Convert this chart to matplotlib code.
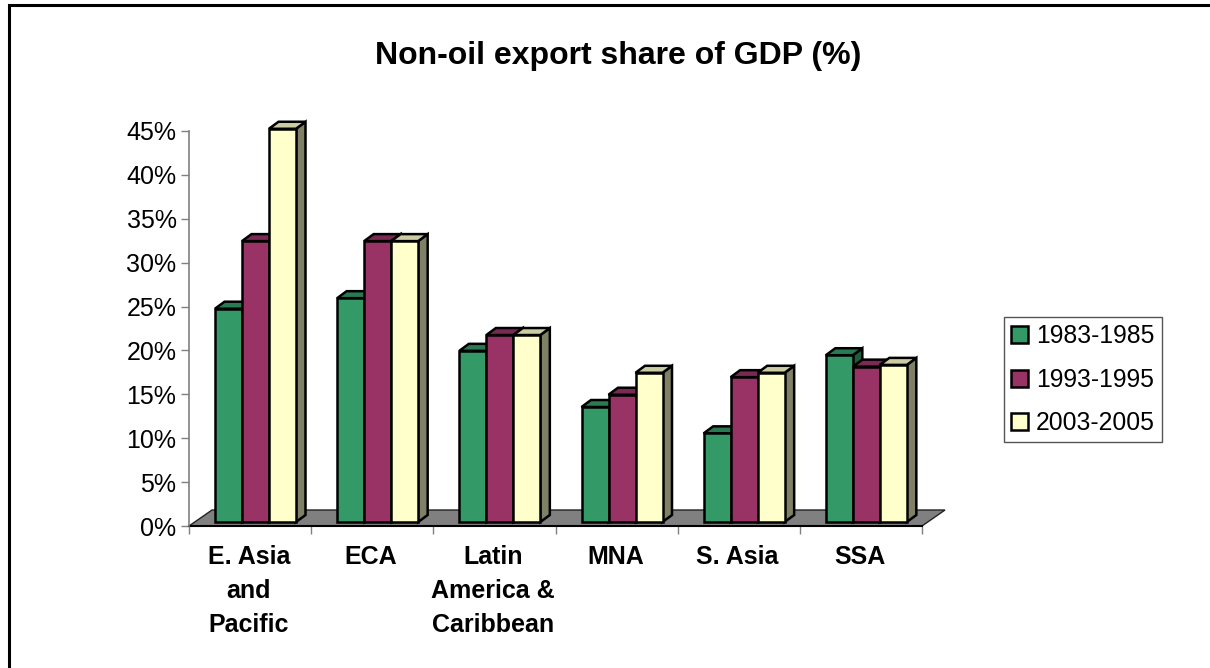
import matplotlib
matplotlib.use('Agg')
import matplotlib.pyplot as plt
import matplotlib.patches as mpatches
from matplotlib.lines import Line2D

plt.rcParams['font.family'] = ['Liberation Sans', 'DejaVu Sans']

categories = ["E. Asia\nand\nPacific", "ECA", "Latin\nAmerica &\nCaribbean", "MNA", "S. Asia", "SSA"]
periods = ["1983-1985", "1993-1995", "2003-2005"]
vals_83 = [24.3, 25.5, 19.5, 13.1, 10.1, 19.0]
vals_93 = [32.0, 32.0, 21.3, 14.5, 16.5, 17.7]
vals_03 = [44.8, 32.0, 21.3, 17.0, 17.0, 17.9]
yticks = [0, 5, 10, 15, 20, 25, 30, 35, 40, 45]

W, H = 1210, 668
front_colors = ["#339966", "#993366", "#FFFFCC"]
top_colors = ["#297A52", "#7A2952", "#CCCCA3"]
side_colors = ["#1F5C3D", "#5C1F3D", "#808066"]

fig = plt.figure(figsize=(W / 100, H / 100), dpi=100)
# slide frame: only left and top edges are visible in the reference
fig.add_artist(Line2D([9 / W, 9 / W, 1209 / W], [0, 1 - 5 / H, 1 - 5 / H], transform=fig.transFigure,
                      color="black", linewidth=2.2, solid_joinstyle="miter"))

# axes box in pixels: x 189-922, y 526-131
ax = fig.add_axes([189 / W, 1 - 526 / H, 733 / W, 395 / H])
ax.set_xlim(0, 6)
ax.set_ylim(0, 45)
ax.patch.set_visible(False)

px_x = 6 / 733
px_y = 45 / 395
depth_x = 9.5 * px_x
depth_y = 7 * px_y
front_y = 4 * px_y
floor_x = 23 * px_x
floor_y = 16 * px_y

# floor
ax.add_patch(mpatches.Polygon([(0, 0), (floor_x, floor_y), (6 + floor_x, floor_y), (6, 0)], closed=True,
                              facecolor="#808080", edgecolor="#222222", linewidth=1.0, clip_on=False, zorder=1))

bar_w = 27 * px_x
start = 26 * px_x
series = [vals_83, vals_93, vals_03]
for s, vals in enumerate(series):
    lefts = [i + start + s * bar_w for i in range(len(vals))]
    for x, v in zip(lefts, vals):
        z = 3 + s
        top = v + front_y
        ax.add_patch(mpatches.Polygon([(x + bar_w, front_y), (x + bar_w + depth_x, front_y + depth_y),
                                       (x + bar_w + depth_x, top + depth_y), (x + bar_w, top)], closed=True,
                                      facecolor=side_colors[s], edgecolor="black", linewidth=1.8, clip_on=False, zorder=z))
        ax.add_patch(mpatches.Polygon([(x, top), (x + depth_x, top + depth_y), (x + bar_w + depth_x, top + depth_y),
                                       (x + bar_w, top)], closed=True,
                                      facecolor=top_colors[s], edgecolor="black", linewidth=1.8, clip_on=False, zorder=z))
    ax.bar(lefts, vals, bar_w, bottom=front_y, align="edge", color=front_colors[s], edgecolor="black",
           linewidth=1.8, zorder=3 + s, clip_on=False)

for side in ["top", "right"]:
    ax.spines[side].set_visible(False)
ax.spines["left"].set_color("#808080")
ax.spines["left"].set_linewidth(1.2)
ax.spines["bottom"].set_color("black")
ax.spines["bottom"].set_linewidth(1.5)
ax.spines["bottom"].set_zorder(2)

ax.set_yticks(yticks)
ax.set_yticklabels([f"{t}%" for t in yticks], fontsize=18)
ax.tick_params(axis="y", length=6, width=1.0, color="#808080", pad=3)
ax.set_xticks(range(7))
ax.set_xticklabels([])
ax.tick_params(axis="x", length=6, width=1.0, color="#808080")
for i, c in enumerate(categories):
    ax.text(i + 0.5 - 0.01, -2.15, c, ha="center", va="top", fontsize=18, fontweight="bold",
            linespacing=1.52, clip_on=False)

fig.text(618 / W, 1 - 56 / H, "Non-oil export share of GDP (%)", ha="center", va="center",
         fontsize=23, fontweight="bold")

handles = [mpatches.Patch(facecolor=c, edgecolor="black", linewidth=1.8, label=p)
           for c, p in zip(front_colors, periods)]
leg = fig.legend(handles=handles, loc="upper left", bbox_to_anchor=(1004 / W, 1 - 317 / H),
                 fontsize=17.8, fancybox=False, framealpha=1, edgecolor="#555555", borderaxespad=0,
                 handlelength=0.68, handleheight=0.68, handletextpad=0.32, labelspacing=0.78,
                 borderpad=0.3)

plt.savefig("out.png", dpi=100)
plt.close()
